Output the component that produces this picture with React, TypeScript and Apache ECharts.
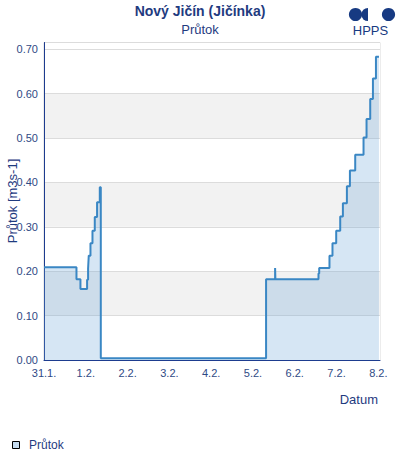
import React, { useEffect, useRef } from "react";
import * as echarts from "echarts";

const FONT = "'Liberation Sans', Arial, sans-serif";

// x tick labels (one per day, starting 31.1. 00:00)
const dayLabels = ["31.1.", "1.2.", "2.2.", "3.2.", "4.2.", "5.2.", "6.2.", "7.2.", "8.2."];

// time in days since 31.1. 00:00
const times = [
  0, 0.777, 0.872, 1.031, 1.055, 1.071, 1.112, 1.16, 1.215, 1.27, 1.335, 1.359,
  5.314, 5.53, 5.537, 6.568, 6.585, 6.831, 6.903, 6.992, 7.088, 7.152, 7.248,
  7.32, 7.447, 7.646, 7.718, 7.806, 7.871, 7.943, 8.015,
];

// flow [m3s-1]
const flows = [
  0.209, 0.182, 0.16, 0.181, 0.206, 0.235, 0.263, 0.291, 0.322, 0.355, 0.389, 0.004,
  0.182, 0.207, 0.182, 0.195, 0.207, 0.235, 0.263, 0.291, 0.323, 0.353, 0.391,
  0.427, 0.462, 0.501, 0.543, 0.588, 0.634, 0.683, 0.683,
];

const seriesName = "Průtok";
const titleText = "Nový Jičín (Jičínka)";
const subtitleText = "Průtok";
const yAxisName = "Průtok [m3s-1]";
const xAxisName = "Datum";

const NAVY = "#1f3b7f";
const TICK = "#2f4a85";
const AXIS = "#1d3c8f";
const LOGO = "#173a82";

export default function App() {
  const ref = useRef<HTMLDivElement>(null);

  useEffect(() => {
    document.body.style.margin = "0";
    const chart = echarts.init(ref.current!, null, { renderer: "svg" });
    const data = times.map((t, i) => [t, flows[i]]);
    chart.setOption({
      animation: false,
      textStyle: { fontFamily: FONT },
      title: [
        {
          text: titleText,
          left: "center",
          top: 4,
          padding: 0,
          textStyle: { fontSize: 14, fontWeight: "bold", color: NAVY, fontFamily: FONT },
        },
        {
          text: subtitleText,
          left: "center",
          top: 22.5,
          padding: 0,
          textStyle: { fontSize: 13, fontWeight: "normal", color: NAVY, fontFamily: FONT },
        },
      ],
      grid: {
        left: 44,
        right: 20,
        top: 42.5,
        bottom: 100,
        show: true,
        borderColor: "#d9d9d9",
        borderWidth: 1,
        backgroundColor: "transparent",
      },
      xAxis: {
        type: "value",
        min: 0,
        max: 8.04,
        interval: 1,
        axisLine: { show: true, lineStyle: { color: AXIS, width: 1 } },
        axisTick: { show: false },
        splitLine: { show: false },
        axisLabel: {
          color: TICK,
          fontSize: 11,
          margin: 7,
          fontFamily: FONT,
          showMaxLabel: false,
          formatter: (v: number) => {
            const r = Math.round(v);
            return Math.abs(v - r) < 1e-6 && dayLabels[r] !== undefined ? dayLabels[r] : "";
          },
        },
      },
      yAxis: {
        type: "value",
        min: 0,
        max: 0.715,
        interval: 0.1,
        axisLine: { show: true, lineStyle: { color: AXIS, width: 1 } },
        axisTick: { show: false },
        splitLine: { show: true, lineStyle: { color: "#dcdcdc", width: 1 } },
        splitArea: {
          show: true,
          areaStyle: {
            color: ["#ffffff", "#f2f2f2", "#ffffff", "#f2f2f2", "#ffffff", "#f2f2f2", "#ffffff", "#ffffff"],
          },
        },
        axisLabel: {
          color: TICK,
          fontSize: 11,
          margin: 6,
          fontFamily: FONT,
          showMaxLabel: false,
          formatter: (v: number) => v.toFixed(2),
        },
      },
      series: [
        {
          name: seriesName,
          type: "line",
          step: "end",
          data,
          showSymbol: false,
          symbol: "none",
          lineStyle: { color: "#3a87c4", width: 2 },
          itemStyle: { color: "#3a87c4" },
          areaStyle: { color: "rgba(100,160,215,0.38)", origin: "start" },
        },
      ],
      graphic: [
        // HPPS logo
        { type: "circle", shape: { cx: 355.5, cy: 14.5, r: 6.6 }, style: { fill: LOGO } },
        {
          type: "sector",
          shape: { cx: 368, cy: 14.5, r: 6.6, r0: 0, startAngle: Math.PI / 2, endAngle: (3 * Math.PI) / 2, clockwise: true },
          style: { fill: LOGO },
        },
        { type: "circle", shape: { cx: 388.5, cy: 14.5, r: 6.6 }, style: { fill: LOGO } },
        {
          type: "text",
          x: 370.5,
          y: 30.5,
          style: { text: "HPPS", fill: LOGO, font: `13px ${FONT}`, align: "center", verticalAlign: "middle" },
        },
        // axis names
        {
          type: "text",
          x: 12,
          y: 201,
          rotation: Math.PI / 2,
          style: { text: yAxisName, fill: NAVY, font: `13px ${FONT}`, align: "center", verticalAlign: "middle" },
        },
        {
          type: "text",
          x: 378,
          y: 399,
          style: { text: xAxisName, fill: NAVY, font: `13px ${FONT}`, align: "right", verticalAlign: "middle" },
        },
        // legend
        {
          type: "rect",
          shape: { x: 12.5, y: 441.5, width: 7, height: 7 },
          style: { fill: "#c6dcf0", stroke: "#000000", lineWidth: 1 },
        },
        {
          type: "text",
          x: 29,
          y: 445,
          style: { text: seriesName, fill: NAVY, font: `12px ${FONT}`, align: "left", verticalAlign: "middle" },
        },
      ],
    });
    return () => chart.dispose();
  }, []);

  return <div ref={ref} style={{ width: 400, height: 460 }} />;
}
